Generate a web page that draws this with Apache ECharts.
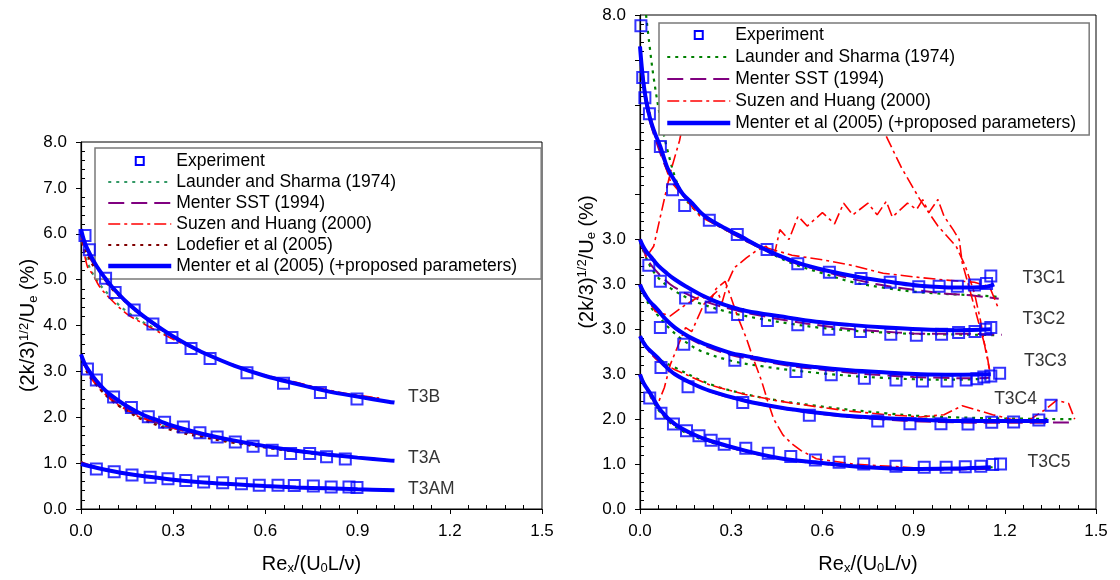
<!DOCTYPE html>
<html><head><meta charset="utf-8">
<script src="https://cdn.jsdelivr.net/npm/echarts@6/dist/echarts.min.js"></script>
<style>html,body{margin:0;padding:0;background:#fff}#c{width:1120px;height:580px}</style>
</head><body><div id="c"></div>
<script>
// ---------------- DATA ----------------
const xTickFormat = v => v.toFixed(1);
const leftYTicks = ['0.0','1.0','2.0','3.0','4.0','5.0','6.0','7.0','8.0'];
const rightYTicks = ['0.0','1.0','2.0','3.0','3.0','3.0','3.0','','','','','8.0'];
const leftCases = ['T3B','T3A','T3AM'];
const rightCases = ['T3C1','T3C2','T3C3','T3C4','T3C5'];

// Left panel: experiment
const expT3B = [[0.013,5.96],[0.027,5.65],[0.080,5.03],[0.111,4.72],[0.173,4.34],[0.234,4.03],[0.296,3.74],[0.358,3.50],[0.420,3.28],[0.540,2.97],[0.659,2.74],[0.779,2.54],[0.898,2.40]];
const expT3A = [[0.021,3.05],[0.050,2.81],[0.106,2.44],[0.164,2.21],[0.219,2.01],[0.272,1.89],[0.333,1.79],[0.387,1.66],[0.443,1.57],[0.502,1.46],[0.560,1.37],[0.622,1.28],[0.682,1.21],[0.744,1.21],[0.799,1.14],[0.860,1.09]];
const expT3AM = [[0.050,0.87],[0.108,0.81],[0.166,0.74],[0.225,0.69],[0.283,0.66],[0.341,0.62],[0.399,0.59],[0.461,0.57],[0.522,0.55],[0.580,0.52],[0.641,0.52],[0.694,0.51],[0.756,0.50],[0.814,0.48],[0.872,0.48],[0.898,0.47]];
// Left panel: models
const menterT3B = [[0,6.1],[0.01,5.85],[0.02,5.68],[0.04,5.42],[0.06,5.2],[0.08,5.02],[0.1,4.85],[0.15,4.5],[0.2,4.22],[0.25,3.98],[0.3,3.76],[0.35,3.57],[0.4,3.4],[0.5,3.12],[0.6,2.9],[0.7,2.73],[0.8,2.57],[0.9,2.45],[1.0,2.34],[1.02,2.32]];
const launderT3B = [[0,6.0],[0.02,5.4],[0.05,5.0],[0.1,4.6],[0.15,4.3],[0.2,4.08],[0.25,3.9],[0.3,3.72],[0.4,3.4],[0.5,3.12],[0.6,2.9],[0.7,2.73],[0.8,2.58],[0.9,2.46],[0.97,2.4]];
const sstT3B = [[0,6.05],[0.02,5.6],[0.05,5.25],[0.1,4.82],[0.2,4.2],[0.3,3.75],[0.4,3.4],[0.5,3.12],[0.6,2.9],[0.7,2.73],[0.8,2.58],[0.9,2.45],[1.0,2.35]];
const suzenT3B = [[0,6.0],[0.02,5.3],[0.04,5.1],[0.06,4.85],[0.1,4.55],[0.15,4.25],[0.2,4.05],[0.3,3.7],[0.4,3.4],[0.5,3.13],[0.6,2.92],[0.7,2.76],[0.8,2.6],[0.9,2.48],[0.97,2.42]];
const lodefierT3B = [[0,6.0],[0.02,5.55],[0.05,5.2],[0.1,4.8],[0.2,4.2],[0.3,3.75],[0.4,3.4],[0.5,3.13],[0.6,2.9],[0.7,2.74],[0.8,2.58],[0.9,2.46],[0.97,2.4]];
const menterT3A = [[0,3.37],[0.01,3.2],[0.02,3.07],[0.04,2.88],[0.06,2.72],[0.08,2.58],[0.1,2.47],[0.15,2.24],[0.2,2.06],[0.25,1.93],[0.3,1.81],[0.4,1.63],[0.5,1.49],[0.6,1.37],[0.7,1.27],[0.8,1.19],[0.9,1.12],[1.0,1.06],[1.02,1.05]];
const launderT3A = [[0,3.35],[0.02,3.0],[0.05,2.72],[0.1,2.38],[0.15,2.15],[0.2,1.97],[0.3,1.74],[0.4,1.58],[0.5,1.45],[0.6,1.34],[0.7,1.25],[0.8,1.18],[0.9,1.12],[0.97,1.08]];
const sstT3A = [[0,3.36],[0.02,3.02],[0.05,2.74],[0.1,2.4],[0.15,2.18],[0.2,2.0],[0.3,1.77],[0.4,1.6],[0.5,1.47],[0.6,1.36],[0.7,1.26],[0.8,1.19],[0.9,1.12],[1.0,1.07]];
const suzenT3A = [[0,3.35],[0.02,3.0],[0.05,2.7],[0.1,2.37],[0.15,2.15],[0.2,1.98],[0.3,1.76],[0.4,1.6],[0.5,1.47],[0.6,1.36],[0.7,1.27],[0.8,1.19],[0.9,1.13],[0.97,1.09]];
const lodefierT3A = [[0,3.35],[0.02,2.98],[0.05,2.7],[0.1,2.36],[0.15,2.13],[0.2,1.95],[0.3,1.71],[0.4,1.56],[0.5,1.44],[0.6,1.34],[0.7,1.25],[0.8,1.18],[0.9,1.12],[0.97,1.08]];
const menterT3AM = [[0,0.98],[0.05,0.9],[0.1,0.83],[0.15,0.77],[0.2,0.72],[0.3,0.64],[0.4,0.58],[0.5,0.54],[0.6,0.5],[0.7,0.47],[0.8,0.45],[0.9,0.43],[1.02,0.41]];
const launderT3AM = [[0,1.02],[0.05,0.9],[0.1,0.82],[0.15,0.76],[0.2,0.71],[0.3,0.63],[0.4,0.58],[0.5,0.54],[0.6,0.5],[0.7,0.47],[0.8,0.45],[0.9,0.43],[0.97,0.42]];
const sstT3AM = [[0,1.02],[0.05,0.91],[0.1,0.83],[0.2,0.72],[0.3,0.64],[0.4,0.58],[0.5,0.54],[0.6,0.5],[0.7,0.47],[0.8,0.45],[0.9,0.43],[1.0,0.42]];
const suzenT3AM = [[0,1.02],[0.05,0.9],[0.1,0.82],[0.2,0.71],[0.3,0.64],[0.4,0.58],[0.5,0.54],[0.6,0.5],[0.7,0.47],[0.8,0.45],[0.9,0.43],[0.97,0.42]];
const lodefierT3AM = [[0,1.02],[0.05,0.9],[0.1,0.82],[0.2,0.71],[0.3,0.63],[0.4,0.58],[0.5,0.54],[0.6,0.5],[0.7,0.47],[0.8,0.45],[0.9,0.43],[0.97,0.42]];

// Right panel: experiment (plotted in offset axis units)
const expT3C1 = [[0.003,10.76],[0.009,9.61],[0.016,9.16],[0.031,8.80],[0.067,8.07],[0.107,7.11],[0.147,6.76],[0.228,6.43],[0.320,6.11],[0.418,5.78],[0.519,5.46],[0.623,5.27],[0.727,5.13],[0.823,5.05],[0.917,4.95],[0.984,4.96],[1.044,4.96],[1.100,4.99],[1.140,5.02],[1.154,5.19]];
const expT3C2 = [[0.029,5.43],[0.067,5.07],[0.150,4.70],[0.234,4.50],[0.321,4.33],[0.419,4.20],[0.519,4.10],[0.621,4.00],[0.725,3.95],[0.825,3.89],[0.909,3.87],[0.992,3.89],[1.048,3.93],[1.102,3.95],[1.137,4.00],[1.154,4.04]];
const expT3C3 = [[0.067,4.04],[0.144,3.67],[0.312,3.31],[0.513,3.06],[0.629,2.99],[0.738,2.91],[0.842,2.87],[0.929,2.85],[1.010,2.85],[1.073,2.87],[1.108,2.90],[1.131,2.94],[1.154,2.96],[1.183,3.02]];
const expT3C4 = [[0.069,3.15],[0.158,2.72],[0.338,2.37],[0.557,2.09],[0.782,1.96],[0.888,1.90],[0.990,1.90],[1.079,1.89],[1.157,1.93],[1.229,1.94],[1.312,1.98],[1.352,2.31]];
const expT3C5 = [[0.032,2.47],[0.069,2.13],[0.110,1.89],[0.153,1.74],[0.194,1.63],[0.234,1.53],[0.277,1.44],[0.348,1.35],[0.422,1.24],[0.496,1.17],[0.577,1.09],[0.655,1.04],[0.736,1.00],[0.842,0.95],[0.935,0.93],[1.007,0.93],[1.070,0.94],[1.121,0.95],[1.160,0.99],[1.186,1.00]];
// Right panel: models
const menterT3C1 = [[0,10.3],[0.005,9.9],[0.012,9.45],[0.02,9.1],[0.035,8.65],[0.05,8.35],[0.067,8.07],[0.09,7.6],[0.115,7.3],[0.14,7.02],[0.173,6.8],[0.2,6.6],[0.23,6.44],[0.28,6.25],[0.32,6.11],[0.415,5.77],[0.52,5.48],[0.62,5.3],[0.73,5.15],[0.83,5.05],[0.92,4.97],[1.04,4.93],[1.14,4.95],[1.165,5.0]];
const launderT3C1 = [[0.02,11.0],[0.03,10.4],[0.045,9.6],[0.067,8.7],[0.09,8.0],[0.12,7.3],[0.15,6.9],[0.2,6.55],[0.3,6.15],[0.4,5.8],[0.5,5.47],[0.6,5.25],[0.7,5.05],[0.8,4.93],[0.9,4.84],[1.0,4.79],[1.1,4.76],[1.15,4.74],[1.18,4.72]];
const sstT3C1 = [[0,10.2],[0.02,9.0],[0.05,8.25],[0.1,7.4],[0.15,6.95],[0.2,6.6],[0.3,6.15],[0.4,5.8],[0.5,5.5],[0.6,5.3],[0.7,5.12],[0.8,4.98],[0.9,4.88],[1.0,4.8],[1.1,4.75],[1.18,4.68]];
const suzenT3C1 = [[0,10.2],[0.02,9.2],[0.05,8.3],[0.1,7.3],[0.2,6.5],[0.3,6.15],[0.4,5.85],[0.5,5.65],[0.6,5.55],[0.7,5.42],[0.8,5.25],[0.9,5.17],[1.0,5.1],[1.1,5.05],[1.15,4.95],[1.18,4.45]];
const menterT3C2 = [[0,6.0],[0.01,5.85],[0.02,5.74],[0.035,5.62],[0.06,5.42],[0.09,5.24],[0.115,5.11],[0.15,4.96],[0.2,4.77],[0.25,4.62],[0.3,4.5],[0.35,4.41],[0.46,4.29],[0.58,4.17],[0.69,4.1],[0.81,4.04],[0.92,4.0],[1.04,3.98],[1.154,4.0]];
const launderT3C2 = [[0,5.95],[0.03,5.45],[0.06,5.15],[0.1,4.92],[0.15,4.72],[0.2,4.57],[0.3,4.37],[0.4,4.23],[0.5,4.12],[0.6,4.03],[0.7,3.97],[0.8,3.93],[0.9,3.9],[1.0,3.89],[1.1,3.88],[1.18,3.87]];
const sstT3C2 = [[0,5.95],[0.03,5.5],[0.06,5.25],[0.1,5.0],[0.15,4.8],[0.2,4.65],[0.3,4.45],[0.4,4.3],[0.5,4.18],[0.6,4.08],[0.7,4.0],[0.8,3.95],[0.9,3.91],[1.0,3.9],[1.1,3.9],[1.19,3.88]];
const suzenT3C2 = [[0,6.0],[0.02,5.6],[0.045,5.85],[0.07,6.6],[0.1,7.5],[0.13,8.2],[0.16,9.2],[0.2,9.8],[0.4,10.0],[0.6,9.8],[0.75,9.2],[0.81,8.3],[0.86,7.6],[0.92,6.9],[0.98,6.3],[1.04,5.85],[1.07,5.41],[1.1,4.81],[1.12,4.2],[1.135,3.6],[1.15,3.1]];
const menterT3C3 = [[0,5.0],[0.01,4.85],[0.03,4.64],[0.058,4.44],[0.085,4.22],[0.115,4.04],[0.15,3.88],[0.2,3.71],[0.23,3.63],[0.3,3.47],[0.346,3.41],[0.46,3.26],[0.577,3.16],[0.69,3.09],[0.81,3.04],[0.923,3.0],[1.04,2.99],[1.154,3.0]];
const launderT3C3 = [[0,4.95],[0.03,4.55],[0.06,4.3],[0.1,4.0],[0.15,3.72],[0.2,3.52],[0.3,3.3],[0.4,3.18],[0.5,3.09],[0.6,3.02],[0.7,2.96],[0.8,2.92],[0.9,2.89],[1.0,2.88],[1.1,2.89],[1.15,2.92]];
const sstT3C3 = [[0,4.97],[0.03,4.6],[0.06,4.38],[0.1,4.1],[0.15,3.85],[0.2,3.67],[0.3,3.43],[0.4,3.3],[0.5,3.18],[0.6,3.1],[0.7,3.03],[0.8,2.98],[0.9,2.94],[1.0,2.92],[1.1,2.91],[1.15,2.92]];
const suzenT3C3 = [[0,5.0],[0.05,4.4],[0.1,4.3],[0.15,4.55],[0.2,4.75],[0.23,4.6],[0.25,4.9],[0.28,5.07],[0.3,4.7],[0.32,4.3],[0.35,3.8],[0.37,3.4],[0.4,2.85],[0.42,2.4],[0.44,2.0],[0.47,1.65],[0.5,1.45],[0.53,1.3],[0.58,1.12],[0.7,1.0],[0.9,0.92],[1.0,0.9],[1.15,0.92]];
const menterT3C4 = [[0,3.85],[0.02,3.62],[0.058,3.37],[0.085,3.17],[0.115,3.0],[0.17,2.8],[0.23,2.63],[0.346,2.41],[0.46,2.26],[0.577,2.15],[0.69,2.07],[0.81,2.02],[0.923,1.99],[1.04,1.96],[1.154,1.96],[1.27,1.96],[1.344,1.96]];
const launderT3C4 = [[0,3.85],[0.03,3.55],[0.06,3.35],[0.115,3.15],[0.23,2.78],[0.346,2.56],[0.46,2.41],[0.577,2.3],[0.69,2.21],[0.81,2.13],[0.923,2.07],[1.04,2.04],[1.154,2.02],[1.27,2.01],[1.42,2.0]];
const sstT3C4 = [[0,3.85],[0.03,3.52],[0.06,3.3],[0.115,3.0],[0.23,2.62],[0.346,2.4],[0.46,2.25],[0.577,2.13],[0.69,2.05],[0.81,1.99],[0.923,1.95],[1.04,1.93],[1.154,1.92],[1.27,1.92],[1.43,1.93]];
const suzenT3C4 = [[0,3.85],[0.03,3.5],[0.06,3.3],[0.115,3.1],[0.23,2.76],[0.346,2.55],[0.46,2.4],[0.577,2.28],[0.69,2.18],[0.81,2.1],[0.923,2.05],[1.0,2.1],[1.06,2.3],[1.1,2.22],[1.16,2.1],[1.22,2.0],[1.28,1.98],[1.33,2.2],[1.37,2.42],[1.41,2.35],[1.43,2.0]];
const menterT3C5 = [[0,3.0],[0.012,2.8],[0.035,2.56],[0.069,2.19],[0.115,1.89],[0.173,1.67],[0.23,1.52],[0.346,1.3],[0.46,1.13],[0.577,1.04],[0.69,0.96],[0.81,0.91],[0.923,0.89],[1.04,0.9],[1.154,0.93]];
const launderT3C5 = [[0,3.0],[0.035,2.5],[0.069,2.13],[0.115,1.84],[0.173,1.63],[0.23,1.49],[0.346,1.29],[0.46,1.13],[0.577,1.04],[0.69,0.97],[0.81,0.92],[0.923,0.9],[1.04,0.9],[1.16,0.93]];
const sstT3C5 = [[0,3.0],[0.035,2.52],[0.069,2.15],[0.115,1.86],[0.173,1.65],[0.23,1.5],[0.346,1.28],[0.46,1.12],[0.577,1.02],[0.69,0.95],[0.81,0.9],[0.923,0.88],[1.04,0.88],[1.16,0.9]];
const suzenT3C5 = [[0,3.0],[0.03,2.55],[0.058,2.33],[0.08,2.7],[0.10,3.22],[0.127,3.67],[0.15,4.04],[0.17,3.95],[0.21,4.56],[0.23,4.7],[0.254,4.85],[0.27,4.6],[0.29,5.07],[0.31,5.37],[0.35,5.59],[0.38,5.74],[0.415,5.85],[0.44,5.6],[0.46,6.22],[0.49,6.0],[0.52,6.52],[0.55,6.3],[0.6,6.6],[0.64,6.35],[0.67,6.81],[0.7,6.55],[0.75,6.81],[0.78,6.55],[0.81,6.85],[0.83,6.5],[0.88,6.81],[0.91,6.67],[0.93,6.89],[0.95,6.6],[0.98,6.89],[1.0,6.52],[1.03,6.22],[1.05,6.0],[1.06,5.48],[1.08,5.0],[1.1,4.5],[1.12,4.0],[1.14,3.5],[1.15,3.07]];

const NAMES = {
  exp: 'Experiment',
  launder: 'Launder and Sharma (1974)',
  sst: 'Menter SST (1994)',
  suzen: 'Suzen and Huang (2000)',
  lodefier: 'Lodefier et al (2005)',
  menter: 'Menter et al (2005) (+proposed parameters)'
};

// ---------------- STYLE ----------------
const FONT = "'Liberation Sans', Arial, sans-serif";
const ST = {
  launderL: {color:'#339966', width:2.2, type:[3,5]},
  launderR: {color:'#008000', width:2.2, type:[3,5]},
  sst: {color:'#800080', width:2, type:[16,7]},
  suzen: {color:'#ff0000', width:1.6, type:[12,4,3,4]},
  lodefier: {color:'#800000', width:2.2, type:[3,5]},
  menter: {color:'#0000ff', width:4}
};
const RP = 'R|';   // name prefix for right-panel series (stripped in legend)

function line(name, data, style, ax, smooth, z) {
  return {type:'line', name, data, xAxisIndex:ax, yAxisIndex:ax, showSymbol:false, symbol:'none',
    smooth: smooth === undefined ? 0.35 : smooth, lineStyle:style, itemStyle:{color:style.color},
    silent:true, animation:false, z: z || 2, clip:true};
}
function exp(name, data, ax) {
  return {type:'scatter', name, data, xAxisIndex:ax, yAxisIndex:ax, symbol:'rect', symbolSize:11,
    itemStyle:{color:'rgba(255,255,255,0)', borderColor:'#0000ff', borderWidth:2}, silent:true, animation:false, z:5};
}
function caseLabels(names, pos, ax) {
  return {type:'scatter', name:'labels'+ax, xAxisIndex:ax, yAxisIndex:ax, symbolSize:0, silent:true, animation:false,
    data: names.map((n,i)=>({value:pos[i], name:n})),
    label:{show:true, position:'right', distance:0, formatter:p=>p.name, color:'#000', fontSize:17.5, fontFamily:FONT}, z:6};
}
const leftLabelPos = [[1.064,2.43],[1.064,1.11],[1.064,0.44]];
const rightLabelPos = [[1.258,5.13],[1.258,4.22],[1.263,3.30],[1.165,2.44],[1.275,1.04]];

const series = [];
// left panel
[[launderT3B,launderT3A,launderT3AM,'launder','launderL'],[sstT3B,sstT3A,sstT3AM,'sst','sst'],[suzenT3B,suzenT3A,suzenT3AM,'suzen','suzen'],[lodefierT3B,lodefierT3A,lodefierT3AM,'lodefier','lodefier'],[menterT3B,menterT3A,menterT3AM,'menter','menter']].forEach(g=>{
  for (let i=0;i<3;i++) series.push(line(NAMES[g[3]], g[i], ST[g[4]], 0, 0.35, g[3]==='menter'?4:2));
});
[expT3B,expT3A,expT3AM].forEach(d=>series.push(exp(NAMES.exp, d, 0)));
series.push(caseLabels(leftCases, leftLabelPos, 0));
// right panel
[[launderT3C1,launderT3C2,launderT3C3,launderT3C4,launderT3C5,'launder','launderR',0.35],
 [sstT3C1,sstT3C2,sstT3C3,sstT3C4,sstT3C5,'sst','sst',0.35],
 [suzenT3C1,suzenT3C2,suzenT3C3,suzenT3C4,suzenT3C5,'suzen','suzen',false],
 [menterT3C1,menterT3C2,menterT3C3,menterT3C4,menterT3C5,'menter','menter',0.35]].forEach(g=>{
  for (let i=0;i<5;i++) series.push(line(RP+NAMES[g[5]], g[i], ST[g[6]], 2, g[7], g[5]==='menter'?4:2));
});
[expT3C1,expT3C2,expT3C3,expT3C4,expT3C5].forEach(d=>series.push(exp(RP+NAMES.exp, d, 2)));
series.push(caseLabels(rightCases, rightLabelPos, 2));

// ---------------- AXES ----------------
const AX = {color:'#000', fontSize:17, fontFamily:FONT};
const rich = {
  b:{fontSize:20, fontFamily:FONT, color:'#000'},
  sub:{fontSize:13, fontFamily:FONT, color:'#000', verticalAlign:'bottom', padding:[9,0,0,0]},
  sup:{fontSize:13, fontFamily:FONT, color:'#000', verticalAlign:'top', padding:[0,0,9,0]}
};
const xName = '{b|Re}{sub|x}{b|/(U}{sub|0}{b|L/ν)}';
const yName = '{b|(2k/3)}{sup|1/2}{b|/U}{sub|e}{b| (%)}';

function xMain(grid) {
  return {type:'value', gridIndex:grid, min:0, max:1.5, interval:0.3, position:'bottom',
    axisLine:{lineStyle:{color:'#000', width:1.2}}, axisTick:{show:true, length:5, lineStyle:{color:'#000'}},
    axisLabel:{formatter:xTickFormat, margin:14, ...AX}, splitLine:{show:false},
    name:xName, nameLocation:'middle', nameGap:44, nameTextStyle:{rich}};
}
function xMinor(grid) {
  return {type:'value', gridIndex:grid, min:0, max:1.5, interval:0.3, position:'bottom',
    axisLine:{show:false}, axisTick:{show:false, inside:true}, axisLabel:{show:false},
    minorTick:{show:true, splitNumber:5, length:4, lineStyle:{color:'#000'}}, splitLine:{show:false}};
}
function yMain(grid, max, labels, gap) {
  return {type:'value', gridIndex:grid, min:0, max, interval:1, position:'left',
    axisLine:{show:true, lineStyle:{color:'#000', width:1.2}}, axisTick:{show:true, length:5, lineStyle:{color:'#000'}},
    axisLabel:{formatter:v=>labels[Math.round(v)], margin:14, ...AX}, splitLine:{show:false},
    name:yName, nameLocation:'middle', nameGap:gap, nameRotate:90, nameTextStyle:{rich}};
}
function yMinor(grid, max) {
  return {type:'value', gridIndex:grid, min:0, max, interval:1, position:'left',
    axisLine:{show:false}, axisTick:{show:false, inside:true}, axisLabel:{show:false},
    minorTick:{show:true, splitNumber:5, length:4, lineStyle:{color:'#000'}}, splitLine:{show:false}};
}

const legendCommon = {
  orient:'vertical', backgroundColor:'#fff', borderColor:'#7a7a7a', borderWidth:1.5,
  itemWidth:63, itemHeight:14, itemGap:3,
  itemStyle:{color:'rgba(0,0,0,0)', borderWidth:0, opacity:0},
  lineStyle:{width:'inherit'},
  textStyle:{color:'#000', fontSize:17.5, fontFamily:FONT, lineHeight:17},
  selectedMode:false
};
const squareIcon = 'path://M0,0M14,14M3,3h8v8h-8z';
const expLegendStyle = {color:'rgba(255,255,255,0)', borderColor:'#0000ff', borderWidth:2, opacity:1};
const thick = {width:4.5};

const option = {
  backgroundColor:'#fff',
  animation:false,
  grid:[
    {left:81, right:578, top:142, bottom:69, show:true, borderColor:'#000', borderWidth:1, backgroundColor:'transparent'},
    {left:640, right:24, top:15, bottom:68, show:true, borderColor:'#000', borderWidth:1, backgroundColor:'transparent'}
  ],
  xAxis:[xMain(0), xMinor(0), xMain(1), xMinor(1)],
  yAxis:[yMain(0, 8, leftYTicks, 40), yMinor(0, 8), yMain(1, 11, rightYTicks, 42), yMinor(1, 11)],
  legend:[
    Object.assign({}, legendCommon, {left:95, top:148, padding:[4,24,4,11],
      data:[{name:NAMES.exp, icon:squareIcon, itemStyle:expLegendStyle}, NAMES.launder, NAMES.sst, NAMES.suzen, NAMES.lodefier, {name:NAMES.menter, lineStyle:thick}]}),
    Object.assign({}, legendCommon, {left:659, top:23, padding:[3,13,3,6], itemGap:4, textStyle:Object.assign({}, legendCommon.textStyle, {lineHeight:18}),
      formatter:n=>n.replace(RP,''),
      data:[{name:RP+NAMES.exp, icon:squareIcon, itemStyle:expLegendStyle}, RP+NAMES.launder, RP+NAMES.sst, RP+NAMES.suzen, {name:RP+NAMES.menter, lineStyle:thick}]})
  ],
  series
};
const chart = echarts.init(document.getElementById('c'), null, {renderer:'canvas'});
chart.setOption(option);
</script>
</body></html>
